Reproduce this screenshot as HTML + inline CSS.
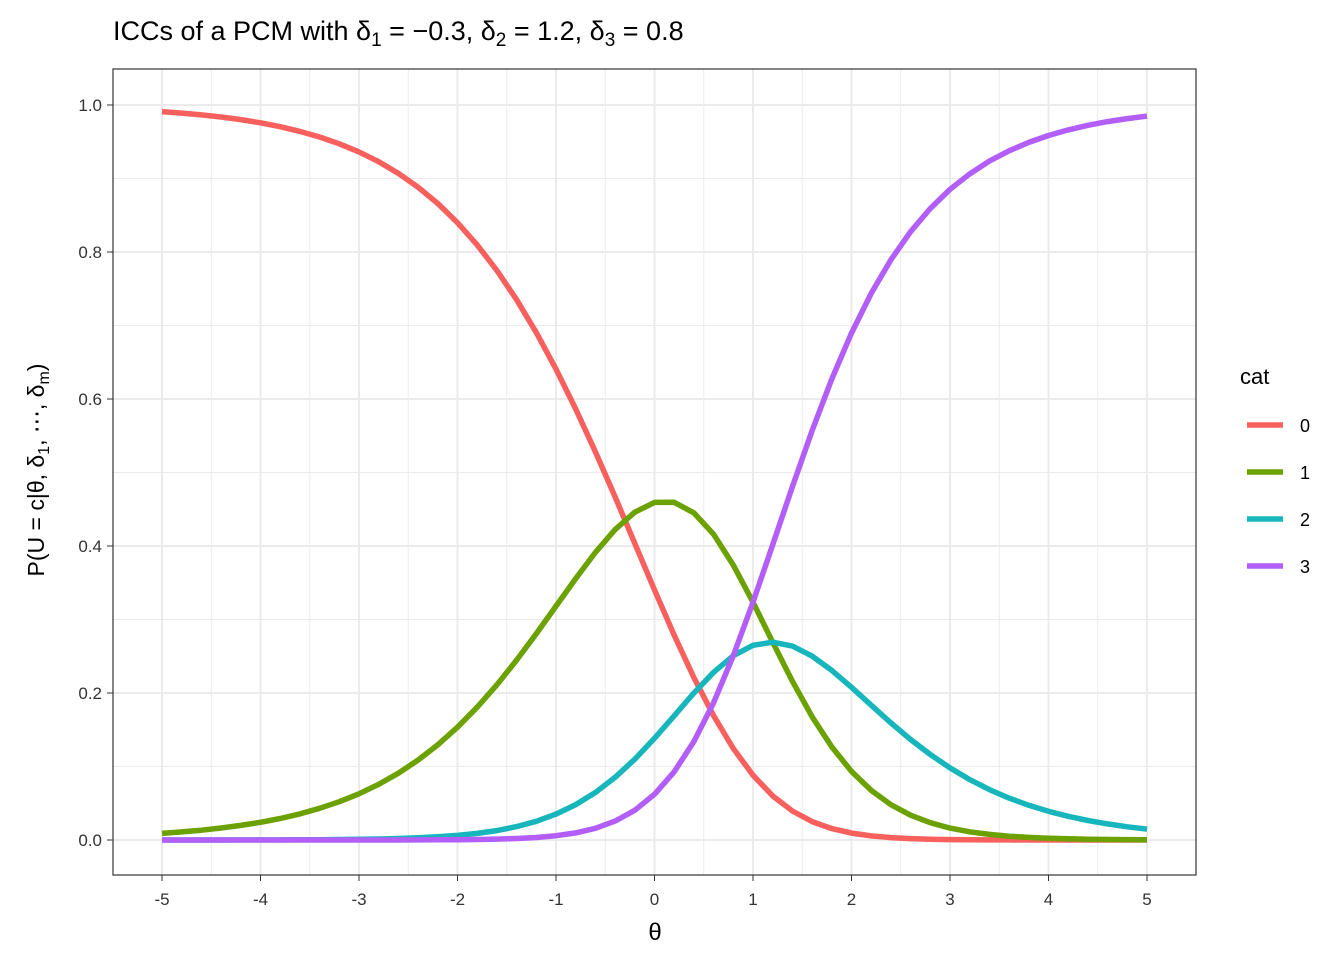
<!DOCTYPE html>
<html><head><meta charset="utf-8"><style>body{margin:0;background:#fff}svg{display:block}text{font-family:"Liberation Sans",sans-serif}</style></head>
<body>
<svg id="s" width="1344" height="960" xmlns="http://www.w3.org/2000/svg">
<rect width="1344" height="960" fill="#fff"/>
<g id="grid"></g>
<g id="lines"></g>
<rect x="113" y="69" width="1083" height="806" fill="none" stroke="#333" stroke-width="1.2"/>
<g id="ticks" font-size="17" fill="#333"></g>
<text x="113" y="40" font-size="27" fill="#000">ICCs of a PCM with δ<tspan font-size="19" dy="6">1</tspan><tspan dy="-6"> = −0.3, δ</tspan><tspan font-size="19" dy="6">2</tspan><tspan dy="-6"> = 1.2, δ</tspan><tspan font-size="19" dy="6">3</tspan><tspan dy="-6"> = 0.8</tspan></text>
<text x="655" y="940" font-size="24" text-anchor="middle" font-family="Liberation Serif">θ</text>
<text transform="translate(44,470) rotate(-90)" font-size="23" text-anchor="middle">P(U = c|θ, δ<tspan font-size="16" dy="5">1</tspan><tspan dy="-5">, ⋯, δ</tspan><tspan font-size="16" dy="5">m</tspan><tspan dy="-5">)</tspan></text>
<text x="1240" y="384" font-size="22">cat</text>
<g id="leg" font-size="18"></g>
</svg>
<script>
const X=t=>654.5+t*98.5, Y=p=>840-p*735;
let g='';
for(let t=-4.5;t<=5;t+=1)g+=`<line x1="${X(t)}" x2="${X(t)}" y1="69" y2="875" stroke="#ebebeb" stroke-width="1"/>`;
for(let p=0.1;p<1.05;p+=0.2)g+=`<line x1="113" x2="1196" y1="${Y(p)}" y2="${Y(p)}" stroke="#ebebeb" stroke-width="1"/>`;
for(let t=-5;t<=5;t++)g+=`<line x1="${X(t)}" x2="${X(t)}" y1="69" y2="875" stroke="#ebebeb" stroke-width="2"/>`;
for(let i=0;i<=5;i++){let p=i*0.2;g+=`<line x1="113" x2="1196" y1="${Y(p)}" y2="${Y(p)}" stroke="#ebebeb" stroke-width="2"/>`;}
document.getElementById('grid').innerHTML=g;
let tk='';
for(let t=-5;t<=5;t++)tk+=`<line x1="${X(t)}" x2="${X(t)}" y1="875" y2="881" stroke="#333"/><text x="${X(t)}" y="905" text-anchor="middle">${t}</text>`;
for(let i=0;i<=5;i++){let p=i*0.2;tk+=`<line x1="107" x2="113" y1="${Y(p)}" y2="${Y(p)}" stroke="#333"/><text x="102" y="${Y(p)+6}" text-anchor="end">${p.toFixed(1)}</text>`;}
document.getElementById('ticks').innerHTML=tk;
const d=[-0.3,1.2,0.8],cols=['#F8605E','#6BA100','#16B6BC','#B35EF9'];
let pts=[[],[],[],[]];
for(let i=0;i<=50;i++){let t=-5+i*0.2,e=[1],s=0;for(let k=0;k<3;k++){s+=t-d[k];e.push(Math.exp(s));}
let z=e.reduce((a,b)=>a+b);for(let c=0;c<4;c++)pts[c].push(X(t).toFixed(1)+','+Y(e[c]/z).toFixed(1));}
let L='',lg='';
for(let c=0;c<4;c++){L+=`<polyline points="${pts[c].join(' ')}" fill="none" stroke="${cols[c]}" stroke-width="5.5" stroke-linejoin="round"/>`;
let y=425+c*47;lg+=`<line x1="1247" x2="1283" y1="${y}" y2="${y}" stroke="${cols[c]}" stroke-width="5.5"/><text x="1300" y="${y+7}">${c}</text>`;}
document.getElementById('lines').innerHTML=L;document.getElementById('leg').innerHTML=lg;
</script>
</body></html>
